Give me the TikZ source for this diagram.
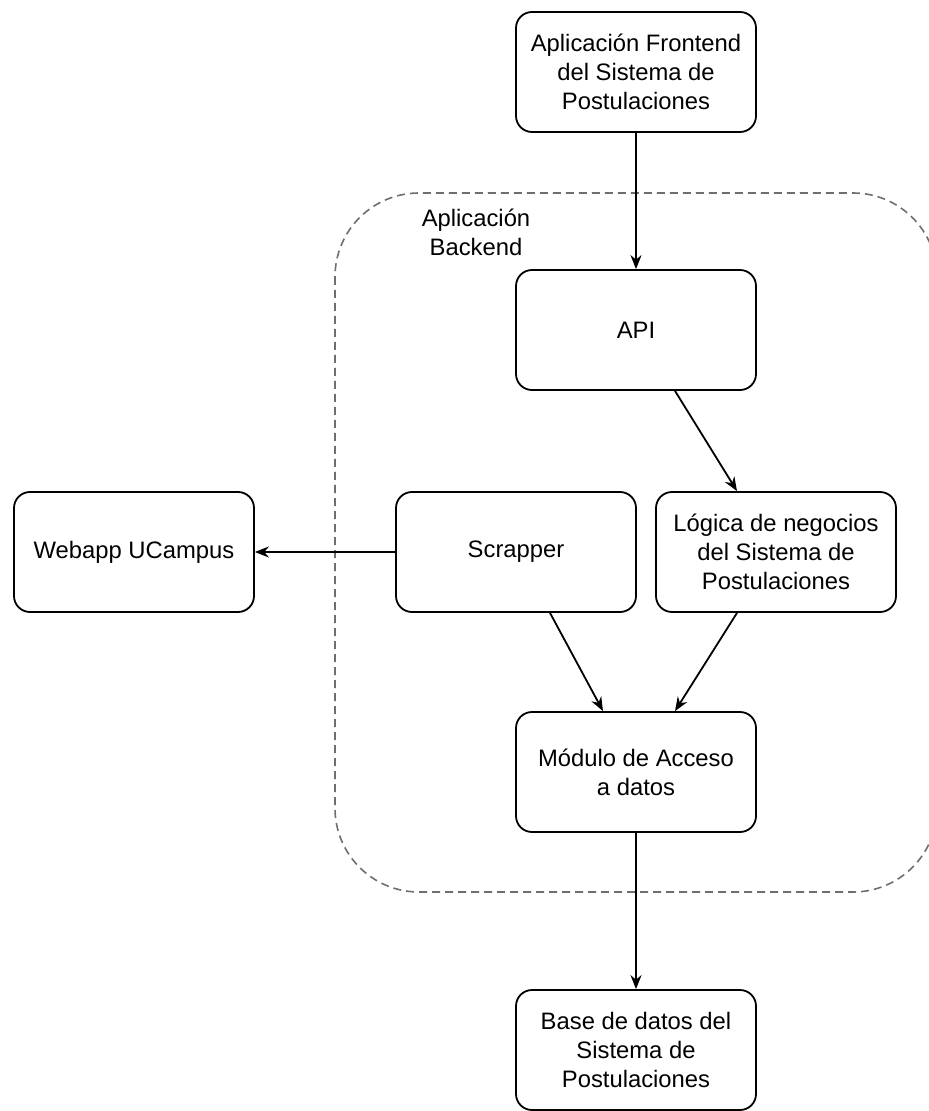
\documentclass[tikz,border=0pt]{standalone}
\usepackage{fontspec}
\setmainfont{Liberation Sans}
\usepackage{tikz}
\usetikzlibrary{arrows.meta}
\definecolor{GroupGray}{RGB}{110,110,110}

\begin{document}
\begin{tikzpicture}[x=0.5pt, y=-0.5pt,
    box/.style={draw, line width=0.9pt, rounded corners=8pt, minimum width=120pt,
      minimum height=60pt, align=center, inner sep=0pt,
      font=\fontsize{11.9}{14.5}\selectfont},
    link/.style={-{Stealth[length=7pt,width=5.5pt]}, line width=0.9pt},
    group/.style={draw=GroupGray, dash pattern=on 4pt off 2.5pt, line width=0.8pt,
      rounded corners=42pt}]
      \useasboundingbox (0,0) rectangle (929,1111);
      % backend container
      \draw[group] (335,193) rectangle (937,892);
      \node[align=center, font=\fontsize{11.9}{14.5}\selectfont] (backlbl) at (476,232) {Aplicación\\Backend};
      % components
      \node[box] (front) at (636,72) {Aplicación Frontend\\del Sistema de\\Postulaciones};
      \node[box] (api) at (636,330) {API};
      \node[box] (scrap) at (516,552) {Scrapper};
      \node[box] (logic) at (776,552) {Lógica de negocios\\del Sistema de\\Postulaciones};
      \node[box] (webapp) at (134,552) {Webapp UCampus};
      \node[box] (access) at (636,772) {Módulo de Acceso\\a datos};
      \node[box] (db) at (636,1050) {Base de datos del\\Sistema de\\Postulaciones};
      % connectors
      \draw[link] (front) -- (api);
      \draw[link] ([xshift=19.5pt]api.south) -- ([xshift=-19.5pt]logic.north);
      \draw[link] (scrap) -- (webapp);
      \draw[link] ([xshift=17pt]scrap.south) -- ([xshift=-16.5pt]access.north);
      \draw[link] ([xshift=-19.5pt]logic.south) -- ([xshift=19.5pt]access.north);
      \draw[link] (access) -- (db);
    \end{tikzpicture}
\end{document}
